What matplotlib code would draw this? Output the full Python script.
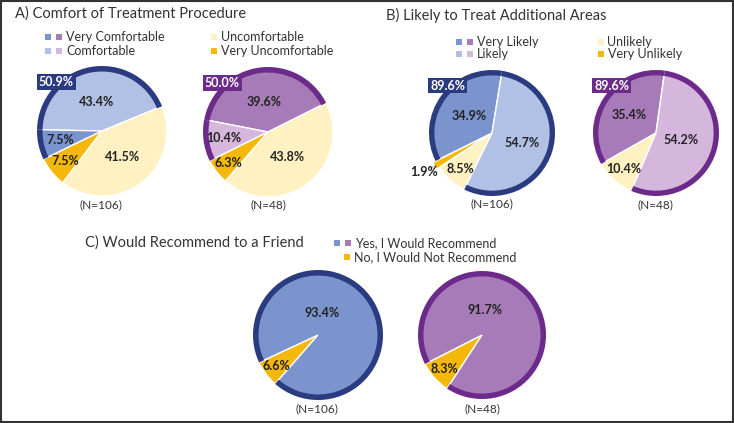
import numpy as np
import matplotlib
matplotlib.use("Agg")
import matplotlib.pyplot as plt
from matplotlib.patches import Wedge, Rectangle

plt.rcParams['font.family'] = ['Lato', 'DejaVu Sans']

W, H = 734, 423

# colours
NAVY = "#2b3b80"
PURPLE = "#6c2b8a"
BLUE_DARK = "#7b94cd"
BLUE_LIGHT = "#b0c1e5"
PURP_DARK = "#a77bb8"
PURP_LIGHT = "#d5b6dd"
YEL_LIGHT = "#fff1c2"
YEL_DARK = "#f4b80a"

# ---- data ----
# A) Comfort of Treatment Procedure
a_cats = ["Very Comfortable", "Comfortable", "Uncomfortable", "Very Uncomfortable"]
a_n106 = {"Very Comfortable": 7.5, "Comfortable": 43.4, "Uncomfortable": 41.5, "Very Uncomfortable": 7.5}
a_n48 = {"Very Comfortable": 39.6, "Comfortable": 10.4, "Uncomfortable": 43.8, "Very Uncomfortable": 6.3}

# B) Likely to Treat Additional Areas
b_cats = ["Very Likely", "Likely", "Unlikely", "Very Unlikely"]
b_n106 = {"Very Likely": 34.9, "Likely": 54.7, "Unlikely": 8.5, "Very Unlikely": 1.9}
b_n48 = {"Very Likely": 35.4, "Likely": 54.2, "Unlikely": 10.4, "Very Unlikely": 0.0}

# C) Would Recommend to a Friend
c_cats = ["Yes, I Would Recommend", "No, I Would Not Recommend"]
c_n106 = {"Yes, I Would Recommend": 93.4, "No, I Would Not Recommend": 6.6}
c_n48 = {"Yes, I Would Recommend": 91.7, "No, I Would Not Recommend": 8.3}

n_labels = ["(N=106)", "(N=48)"]


def fx(x):
    return x / W


def fy(y):
    return 1 - y / H


def pie_axes(cx, cy, r, span=1.4):
    h = r * span
    ax = fig.add_axes([fx(cx - h), fy(cy + h), 2 * h / W, 2 * h / H])
    return ax


def draw_pie(cx, cy, r, data, order, colors, start, ring_cats, ring_color,
             label_r, label_ang=None, explode=None, box=True, leader=None):
    ax = pie_axes(cx, cy, r)
    vals = [data[c] for c in order]
    ex = [explode.get(c, 0) if explode else 0 for c in order]
    wedges, _ = ax.pie(vals, colors=[colors[c] for c in order], startangle=start,
                       counterclock=True, explode=ex,
                       wedgeprops=dict(edgecolor="white", linewidth=1.0))
    ax.set_xlim(-1.4, 1.4)
    ax.set_ylim(-1.4, 1.4)
    ax.axis("off")
    for c, w in zip(order, wedges):
        if data[c] == 0:
            continue
        if c in ring_cats:
            ax.add_patch(Wedge((0, 0), 1.0, w.theta1, w.theta2, width=0.085,
                               facecolor=ring_color, edgecolor="none", zorder=3))
        ang = (w.theta1 + w.theta2) / 2
        if label_ang and c in label_ang:
            ang = label_ang[c]
        rr = label_r[c]
        t = np.deg2rad(ang)
        ax.text(rr * np.cos(t), rr * np.sin(t), f"{data[c]:.1f}%", ha="center", va="center",
                fontsize=9, fontweight="bold", color="#222222", zorder=5)
        if leader and c in leader:
            r0, r1 = leader[c]
            ax.plot([r0 * np.cos(t), r1 * np.cos(t)], [r0 * np.sin(t), r1 * np.sin(t)],
                    color="#999999", lw=0.6, zorder=4)
    if box:
        total = sum(data[c] for c in ring_cats)
        t = np.deg2rad(133)
        ax.text(1.03 * np.cos(t), 1.03 * np.sin(t), f"{total:.1f}%", ha="center", va="center",
                fontsize=9, fontweight="bold", color="white", zorder=6,
                bbox=dict(boxstyle="square,pad=0.15", facecolor=ring_color, edgecolor="none"))
    return ax


def legend_row(x, y, cols, text):
    xx = x
    for col in cols:
        fig.add_artist(Rectangle((fx(xx), fy(y + 3)), 6 / W, 6 / H, transform=fig.transFigure,
                                 facecolor=col, edgecolor="none"))
        xx += 11
    fig.text(fx(xx - 1), fy(y), text, fontsize=9, va="center", ha="left", color="#333333")


fig = plt.figure(figsize=(W / 100, H / 100), dpi=100)
fig.patch.set_facecolor("white")

# ---- Panel A ----
fig.text(fx(15), fy(14), "A) Comfort of Treatment Procedure", fontsize=10.5, va="center", color="#333333")
legend_row(45, 37, [BLUE_DARK, PURP_DARK], a_cats[0])
legend_row(45, 51, [BLUE_LIGHT, PURP_LIGHT], a_cats[1])
legend_row(211, 37, [YEL_LIGHT], a_cats[2])
legend_row(211, 51, [YEL_DARK], a_cats[3])

a_col1 = {"Very Comfortable": BLUE_DARK, "Comfortable": BLUE_LIGHT,
          "Uncomfortable": YEL_LIGHT, "Very Uncomfortable": YEL_DARK}
a_col2 = {"Very Comfortable": PURP_DARK, "Comfortable": PURP_LIGHT,
          "Uncomfortable": YEL_LIGHT, "Very Uncomfortable": YEL_DARK}
draw_pie(102, 131, 65, a_n106,
         ["Comfortable", "Very Comfortable", "Very Uncomfortable", "Uncomfortable"],
         a_col1, 22.4, a_cats[:2], NAVY,
         {"Comfortable": 0.46, "Very Comfortable": 0.66, "Very Uncomfortable": 0.74, "Uncomfortable": 0.51})
draw_pie(268, 132, 65, a_n48,
         ["Very Comfortable", "Comfortable", "Very Uncomfortable", "Uncomfortable"],
         a_col2, 26.6, a_cats[:2], PURPLE,
         {"Comfortable": 0.69, "Very Comfortable": 0.47, "Very Uncomfortable": 0.77, "Uncomfortable": 0.49})
fig.text(fx(101), fy(205), n_labels[0], fontsize=8.5, ha="center", va="center", color="#333333")
fig.text(fx(268), fy(205), n_labels[1], fontsize=8.5, ha="center", va="center", color="#333333")

# ---- Panel B ----
fig.text(fx(386), fy(15), "B) Likely to Treat Additional Areas", fontsize=10.5, va="center", color="#333333")
legend_row(456, 42, [BLUE_DARK, PURP_DARK], b_cats[0])
legend_row(456, 54.5, [BLUE_LIGHT, PURP_LIGHT], b_cats[1])
legend_row(597.5, 42, [YEL_LIGHT], b_cats[2])
legend_row(597.5, 54.5, [YEL_DARK], b_cats[3])

b_col1 = {"Very Likely": BLUE_DARK, "Likely": BLUE_LIGHT, "Unlikely": YEL_LIGHT, "Very Unlikely": YEL_DARK}
b_col2 = {"Very Likely": PURP_DARK, "Likely": PURP_LIGHT, "Unlikely": YEL_LIGHT, "Very Unlikely": YEL_DARK}
b_order = ["Very Likely", "Very Unlikely", "Unlikely", "Likely"]
draw_pie(492, 133, 63, b_n106, b_order, b_col1, 80.8, b_cats[:2], NAVY,
         {"Very Likely": 0.45, "Likely": 0.50, "Unlikely": 0.76, "Very Unlikely": 1.25},
         explode={"Very Unlikely": 0.05}, leader={"Very Unlikely": (1.03, 1.13)})
draw_pie(656, 133, 63, b_n48, ["Very Likely", "Unlikely", "Likely"], b_col2, 82, b_cats[:2], PURPLE,
         {"Very Likely": 0.52, "Likely": 0.42, "Unlikely": 0.76})
fig.text(fx(492), fy(204), n_labels[0], fontsize=8.5, ha="center", va="center", color="#333333")
fig.text(fx(655), fy(205), n_labels[1], fontsize=8.5, ha="center", va="center", color="#333333")

# ---- Panel C ----
fig.text(fx(85), fy(243), "C) Would Recommend to a Friend", fontsize=10.5, va="center", color="#333333")
legend_row(334, 243, [BLUE_DARK, PURP_DARK], c_cats[0])
legend_row(344, 257.5, [YEL_DARK], c_cats[1])

c_col1 = {"Yes, I Would Recommend": BLUE_DARK, "No, I Would Not Recommend": YEL_DARK}
c_col2 = {"Yes, I Would Recommend": PURP_DARK, "No, I Would Not Recommend": YEL_DARK}
c_order = ["No, I Would Not Recommend", "Yes, I Would Recommend"]
draw_pie(318, 335, 65, c_n106, c_order, c_col1, 205, c_cats[:1], NAVY,
         {"Yes, I Would Recommend": 0.35, "No, I Would Not Recommend": 0.80},
         label_ang={"Yes, I Would Recommend": 80}, box=False)
draw_pie(482, 335, 64, c_n48, c_order, c_col2, 207, c_cats[:1], PURPLE,
         {"Yes, I Would Recommend": 0.40, "No, I Would Not Recommend": 0.80},
         label_ang={"Yes, I Would Recommend": 83}, box=False)
fig.text(fx(317), fy(409), n_labels[0], fontsize=8.5, ha="center", va="center", color="#333333")
fig.text(fx(482), fy(409), n_labels[1], fontsize=8.5, ha="center", va="center", color="#333333")

# outer frame
fig.add_artist(Rectangle((0.001, 0.003), 0.997, 0.995, transform=fig.transFigure,
                         fill=False, edgecolor="#333333", lw=1.5))

fig.savefig("out.png", dpi=100)
